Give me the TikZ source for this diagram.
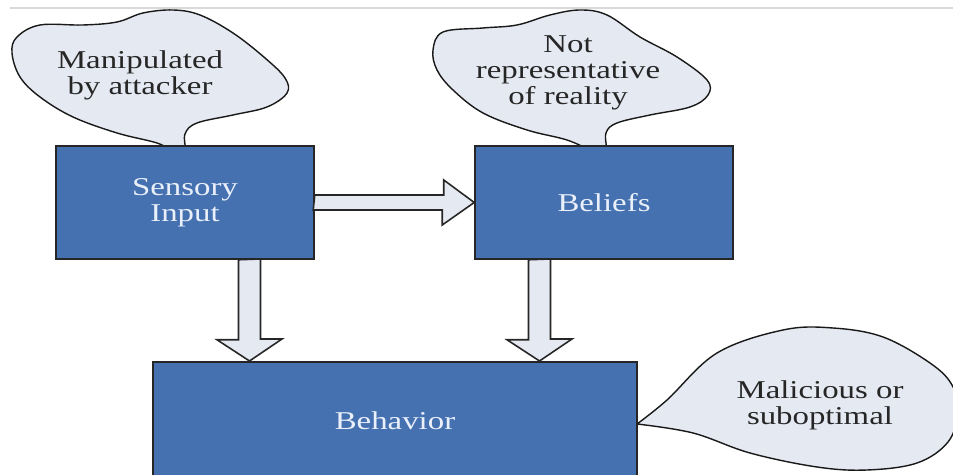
\documentclass[tikz,border=0pt]{standalone}
\usepackage{fontspec}
\newfontfamily\diagfont[FakeStretch=1.28]{Liberation Serif}
\usetikzlibrary{calc}
\definecolor{boxblue}{HTML}{4571B0}
\definecolor{bubblefill}{HTML}{E5E9F1}
\definecolor{boxtext}{HTML}{EAF0FA}
\tikzset{
    mybox/.style = {rectangle, draw=black!85, line width=0.9pt, fill=boxblue, text=boxtext, align=center, font=\diagfont\fontsize{14.6}{14.8}\selectfont},
    bubble/.style = {draw=black!90, line width=0.8pt, fill=bubblefill},
    bubtext/.style = {align=center, text=black!85, font=\diagfont\fontsize{14.6}{14.8}\selectfont},
    fatarrow/.style = {draw=black!85, line width=0.9pt, fill=bubblefill, line join=miter}
}

\begin{document}
\begin{tikzpicture}[x=0.02cm, y=-0.02cm]
\useasboundingbox (0,0) rectangle (953,475);
\clip (0,0) rectangle (953,475);
\draw[gray!30, line width=0.8pt] (10,8) -- (953,8);
%
% clouds
\draw[bubble] plot[smooth cycle, tension=0.6] coordinates {(185,152) (185,134) (197,123) (233,115) (267,107) (287,93) (285,78) (265,58) (233,33) (200,15) (173,10) (143,13) (117,22) (83,25) (40,25) (17,37) (12,53) (20,77) (40,97) (73,117) (117,133) (157,143) (175,152)};
\draw[bubble] plot[smooth cycle, tension=0.6] coordinates {(606,152) (606,133) (617,123) (650,115) (690,107) (708,95) (707,80) (677,57) (640,37) (607,15) (580,10) (550,15) (517,25) (483,28) (443,32) (433,50) (437,70) (453,90) (483,113) (527,130) (567,140) (595,152)};
\draw[bubble] plot[smooth, tension=0.6] coordinates {(637,424) (667,400) (717,353) (783,330) (833,328) (883,337) (930,363) (952,385) (958,412) (948,442) (917,463) (867,470) (817,467) (750,453) (693,433) (637,424)} -- cycle;
%
\coordinate (t1) at (249.5,361);
\coordinate (t2) at (539.5,361);
%
% boxes
\node[mybox, minimum width=5.16cm, minimum height=2.26cm] (sens) at (185,202.5) {Sensory\\Input};
\node[mybox, minimum width=5.16cm, minimum height=2.26cm] (bel) at (604,202.5) {Beliefs};
\node[mybox, minimum width=9.68cm, minimum height=2.36cm] (beh) at (395,421) {Behavior};
%
% arrows
\draw[fatarrow] (sens.east) ++(0,-7.5) -- ++(129,0) -- ++(0,-15) -- (bel.west) -- ++(-32,22.5) -- ++(0,-15) -- ++(-129,0) -- cycle;
\draw[fatarrow] (sens.south -| t1) ++(-11,0) -- ++(0,80) -- ++(-21.5,0) -- (t1) -- ++(32.5,-22) -- ++(-21.5,0) -- ++(0,-80) -- cycle;
\draw[fatarrow] (bel.south -| t2) ++(-11,0) -- ++(0,80) -- ++(-21.5,0) -- (t2) -- ++(32.5,-22) -- ++(-21.5,0) -- ++(0,-80) -- cycle;
%
% cloud texts
\node[bubtext] (manip) at (140,75) {Manipulated\\by attacker};
\node[bubtext] (notrep) at (568,73) {Not\\representative\\of reality};
\node[bubtext] (malic) at (820,405) {Malicious or\\suboptimal};

\end{tikzpicture}
\end{document}
